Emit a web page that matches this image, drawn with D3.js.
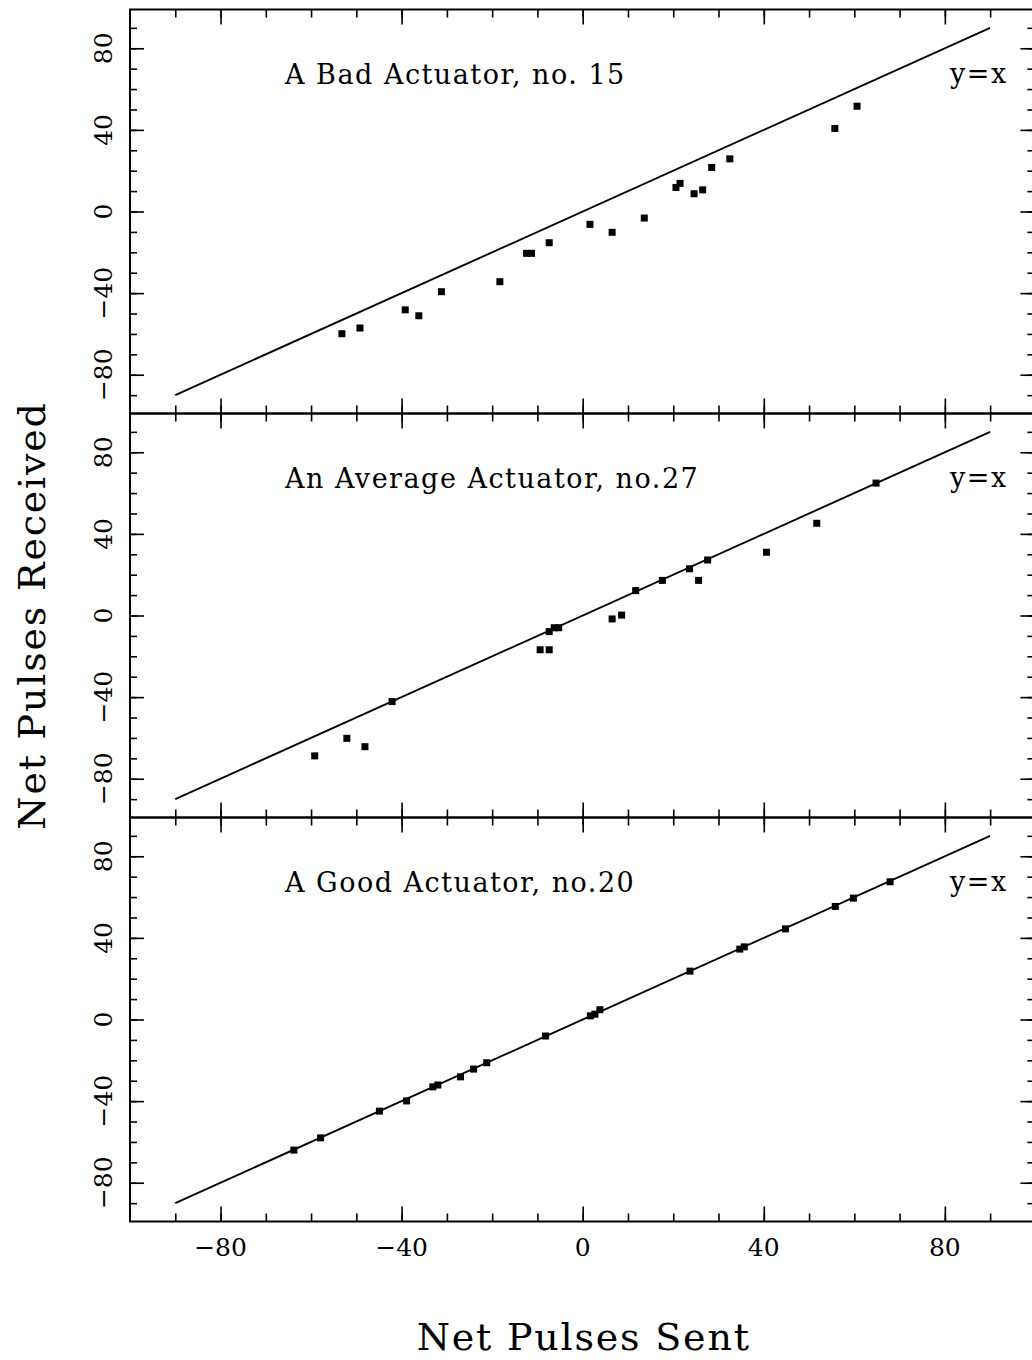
<!DOCTYPE html>
<html>
<head>
<meta charset="utf-8">
<script src="https://cdn.jsdelivr.net/npm/d3@7"></script>
<style>
  body { margin: 0; background: #fff; }
  svg { display: block; }
  text { font-family: "DejaVu Serif", serif; fill: #000; }
</style>
</head>
<body>
<div id="chart"></div>
<script>
// data
var panelTitles = ["A Bad Actuator, no. 15", "An Average Actuator, no.27", "A Good Actuator, no.20"];

var badSent     = [-53.2, -49.2, -39.2, -36.2, -31.2, -18.3, -12.4, -11.3, -7.4, 1.6, 6.5, 13.6, 20.6, 21.5, 24.6, 26.5, 28.5, 32.5, 55.7, 60.6];
var badReceived = [-59.9, -57.1, -48.2, -51.1, -39.3, -34.4, -20.5, -20.5, -15.3, -6.3, -10.2, -3.2, 11.8, 13.8, 8.7, 10.6, 21.6, 25.8, 40.7, 51.6];

var avgSent     = [-59.2, -52.1, -48.1, -42.1, -9.4, -7.4, -7.4, -6.3, -5.3, 6.5, 8.6, 11.7, 17.6, 23.6, 25.6, 27.6, 40.6, 51.7, 64.8];
var avgReceived = [-68.8, -60.2, -64.3, -42.2, -16.8, -16.8, -7.9, -6.0, -6.0, -1.7, 0.2, 12.2, 17.2, 22.9, 17.2, 27.2, 31.0, 45.2, 64.9];

var goodSent     = [-63.8, -57.9, -44.9, -38.9, -33.1, -32.0, -27.0, -24.1, -21.2, -8.2, 1.7, 2.7, 3.8, 23.7, 34.7, 35.7, 44.8, 55.8, 59.8, 67.9];
var goodReceived = [-64.0, -58.0, -44.9, -39.9, -33.0, -32.1, -28.1, -24.3, -21.2, -8.1, 1.8, 2.6, 4.8, 23.7, 34.5, 35.6, 44.4, 55.4, 59.5, 67.5];

var majorTicks = [-80, -40, 0, 40, 80];
var minorTicks = d3.range(-90, 91, 10);
var lineEnds = [-90, 90];

var svgWidth = 1032;
var svgHeight = 1360;

var left = 130;
var top0 = 9.5;
var panelH = 404;

var svg = d3.select("#chart")
  .append("svg")
  .attr("width", svgWidth)
  .attr("height", svgHeight);

var x = d3.scaleLinear().domain([-100, 100]).range([left, left + 905.4]);

var panels = [
  {title: panelTitles[0], sent: badSent, received: badReceived},
  {title: panelTitles[1], sent: avgSent, received: avgReceived},
  {title: panelTitles[2], sent: goodSent, received: goodReceived}
];

panels.forEach(function(p, i) {
  var y0 = top0 + i * panelH;
  var y = d3.scaleLinear().domain([-99, 99]).range([y0 + panelH, y0]);
  var g = svg.append("g");

  // frame
  g.append("rect")
    .attr("x", x(-100))
    .attr("y", y0)
    .attr("width", x(100) - x(-100))
    .attr("height", panelH)
    .attr("fill", "none")
    .attr("stroke", "#000")
    .attr("stroke-width", 2);

  // ticks all round, pointing inwards
  function addAxis(axisFn, scale, pos, values, size) {
    var a = axisFn(scale).tickValues(values).tickSize(size).tickSizeOuter(0).tickFormat("");
    var ag = g.append("g").attr("transform", pos).call(a);
    ag.select(".domain").remove();
    ag.selectAll(".tick line").attr("stroke", "#000").attr("stroke-width", 1.6);
    return ag;
  }
  var bottomY = y0 + panelH;
  addAxis(d3.axisBottom, x, "translate(0," + bottomY + ")", minorTicks, -8);
  addAxis(d3.axisBottom, x, "translate(0," + bottomY + ")", majorTicks, -15);
  addAxis(d3.axisTop, x, "translate(0," + y0 + ")", minorTicks, -8);
  addAxis(d3.axisTop, x, "translate(0," + y0 + ")", majorTicks, -15);
  addAxis(d3.axisLeft, y, "translate(" + x(-100) + ",0)", minorTicks, -7);
  addAxis(d3.axisLeft, y, "translate(" + x(-100) + ",0)", majorTicks, -14);
  addAxis(d3.axisRight, y, "translate(" + x(100) + ",0)", minorTicks, -8);
  addAxis(d3.axisRight, y, "translate(" + x(100) + ",0)", majorTicks, -15);

  // y tick labels, rotated
  g.selectAll(".ylab")
    .data(majorTicks)
    .enter()
    .append("text")
    .attr("transform", function(d) { return "translate(112," + y(d) + ") rotate(-90)"; })
    .attr("text-anchor", "middle")
    .style("font-size", "25px")
    .text(function(d) { return d3.format("")(d); });

  // y = x line
  g.append("line")
    .attr("x1", x(lineEnds[0]))
    .attr("y1", y(lineEnds[0]))
    .attr("x2", x(lineEnds[1]))
    .attr("y2", y(lineEnds[1]))
    .attr("stroke", "#000")
    .attr("stroke-width", 1.9);

  // points
  g.selectAll(".pt")
    .data(p.sent)
    .enter()
    .append("rect")
    .attr("x", function(d) { return x(d) - 3.5; })
    .attr("y", function(d, j) { return y(p.received[j]) - 3.5; })
    .attr("width", 7)
    .attr("height", 7)
    .attr("fill", "#000");

  g.append("text")
    .attr("x", 285)
    .attr("y", y0 + 74)
    .style("font-size", "27px")
    .style("letter-spacing", "1.5px")
    .text(p.title);

  g.append("text")
    .attr("x", 950)
    .attr("y", y0 + 73)
    .style("font-size", "27px")
    .style("letter-spacing", "1.5px")
    .text("y=x");
});

// x tick labels at the bottom
svg.selectAll(".xlab")
  .data(majorTicks)
  .enter()
  .append("text")
  .attr("x", function(d) { return x(d); })
  .attr("y", top0 + 3 * panelH + 34)
  .attr("text-anchor", "middle")
  .style("font-size", "25px")
  .text(function(d) { return d3.format("")(d); });

// axis titles
svg.append("text")
  .attr("x", x(0) + 1)
  .attr("y", 1350)
  .attr("text-anchor", "middle")
  .style("font-size", "38px")
  .style("letter-spacing", "1.8px")
  .text("Net Pulses Sent");

svg.append("text")
  .attr("transform", "translate(45," + (top0 + 1.5 * panelH) + ") rotate(-90)")
  .attr("text-anchor", "middle")
  .style("font-size", "38px")
  .style("letter-spacing", "1.8px")
  .text("Net Pulses Received");
</script>
</body>
</html>
